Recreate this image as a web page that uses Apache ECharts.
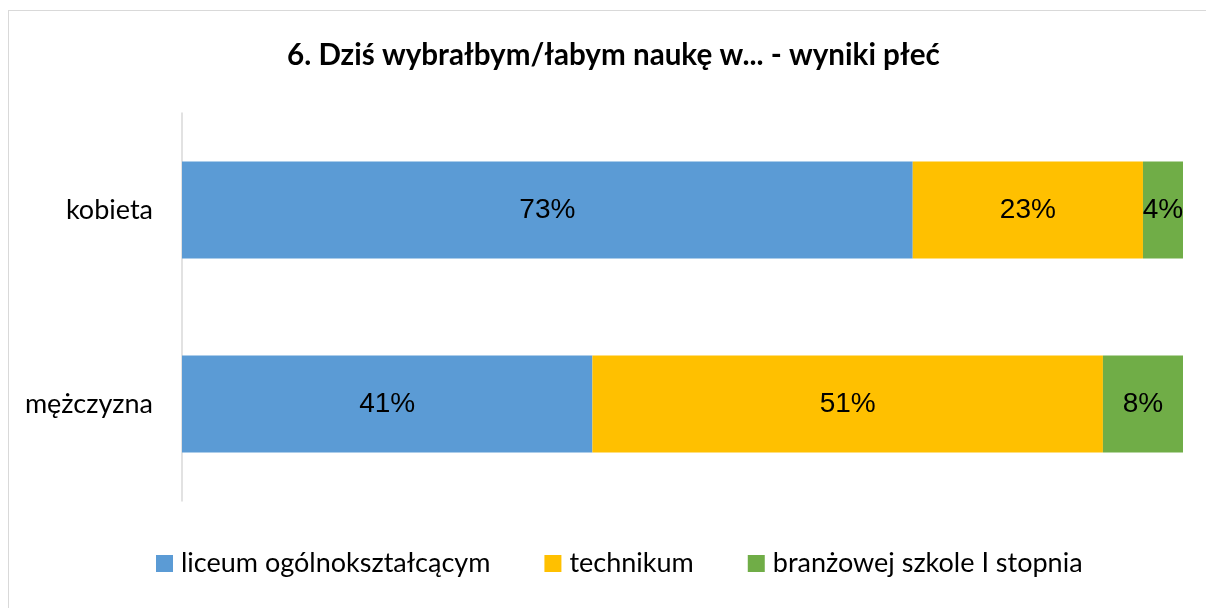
<!DOCTYPE html>
<html>
<head>
<meta charset="utf-8">
<script src="https://cdn.jsdelivr.net/npm/echarts@6/dist/echarts.min.js"></script>
<style>
  html, body { margin: 0; padding: 0; background: #fff; overflow: hidden; }
  .frame {
    position: absolute; left: 8px; top: 10px; width: 1198px; height: 598px;
    border-left: 1.5px solid #d9d9d9; border-top: 1.5px solid #d9d9d9;
    box-sizing: border-box;
  }
  #chart { position: absolute; left: 0; top: 0; width: 1206px; height: 608px; }
</style>
</head>
<body>
<div class="frame"></div>
<div id="chart"></div>
<script>
// dane wykresu
const categories = ['kobieta', 'mężczyzna']
const seriesNames = ['liceum ogólnokształcącym', 'technikum', 'branżowej szkole I stopnia']
const liceum = [73, 41]
const technikum = [23, 51]
const branzowa = [4, 8]
const seriesColors = ['#5b9bd5', '#ffc000', '#70ad47']

const calibriLike = 'Lato, "Open Sans", sans-serif'

const chart = echarts.init(document.getElementById('chart'))

const makeSeries = (name, values, color) => ({
  name,
  type: 'bar',
  stack: 'total',
  barWidth: '50%',
  data: values,
  itemStyle: { color },
  label: {
    show: true,
    position: 'inside',
    formatter: '{c}%',
    color: '#000',
    fontFamily: '"Liberation Sans", Arial, sans-serif',
    fontSize: 28
  }
})

const option = {
  animation: false,
  title: {
    text: '6. Dziś wybrałbym/łabym naukę w... - wyniki płeć',
    left: 282,
    top: 35,
    textStyle: {
      fontFamily: calibriLike,
      fontWeight: 'bold',
      fontSize: 29.6,
      color: '#000'
    }
  },
  legend: {
    bottom: 26,
    left: 151,
    itemWidth: 17,
    itemHeight: 17,
    itemGap: 54,
    icon: 'rect',
    textStyle: {
      fontFamily: calibriLike,
      fontSize: 27,
      color: '#000',
      padding: [0, 0, 0, 3]
    }
  },
  grid: {
    left: 182,
    right: 23,
    top: 113,
    bottom: 107,
    containLabel: false
  },
  xAxis: {
    type: 'value',
    min: 0,
    max: 100,
    show: false
  },
  yAxis: {
    type: 'category',
    data: categories,
    inverse: true,
    axisLine: { show: true, lineStyle: { color: '#d9d9d9', width: 1.5 } },
    axisTick: { show: false },
    axisLabel: {
      margin: 29,
      fontFamily: calibriLike,
      fontSize: 27,
      color: '#000'
    }
  },
  series: [
    makeSeries(seriesNames[0], liceum, seriesColors[0]),
    makeSeries(seriesNames[1], technikum, seriesColors[1]),
    makeSeries(seriesNames[2], branzowa, seriesColors[2])
  ]
}

chart.setOption(option)
</script>
</body>
</html>
